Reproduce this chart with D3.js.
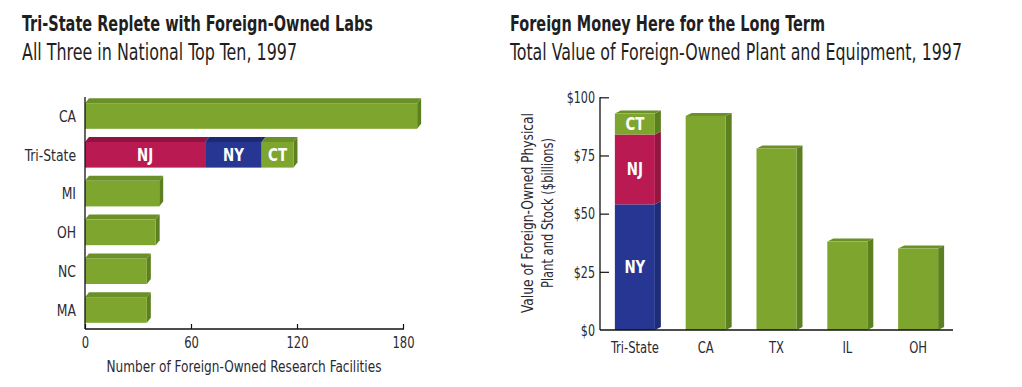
<!DOCTYPE html>
<html><head><meta charset="utf-8">
<script src="https://cdn.jsdelivr.net/npm/d3@7"></script>
<style>
body{margin:0;background:#fff;}
svg{display:block;}
text{font-family:"Liberation Sans Narrow","DejaVu Sans Condensed","Roboto",sans-serif;}
</style></head>
<body>
<svg id="c" width="1022" height="387"></svg>
<script>
// ---- Left chart data ----
const labCategories = ["CA","Tri-State","MI","OH","NC","MA"];
const labTotals = [188, null, 42, 40, 35, 35];
const triStateLabParts = ["NJ","NY","CT"];
const triStateLabValues = [68, 32, 18];
const labTicks = [0, 60, 120, 180];

// ---- Right chart data ----
const plantCategories = ["Tri-State","CA","TX","IL","OH"];
const plantTotals = [null, 92, 78, 38, 35];
const triStatePlantParts = ["NY","NJ","CT"];
const triStatePlantValues = [54, 30, 9];
const plantTicks = [0, 25, 50, 75, 100];

const colors = {
  green:{front:"#7ea52e", top:"#6a9027", side:"#5c8020"},
  NJ:{front:"#b81a51", top:"#8f1441", side:"#93163f"},
  NY:{front:"#263692", top:"#1d2a72", side:"#1f2c78"},
  CT:{front:"#7ea52e", top:"#6a9027", side:"#5c8020"}
};
const txt = "#2a2a33";
const svg = d3.select("#c");

// condense text horizontally (no narrow font available)
function squeeze(sel, factor, target){
  sel.each(function(){
    const w = this.getComputedTextLength();
    const tl = target != null ? target : w*factor;
    d3.select(this).attr("textLength", tl).attr("lengthAdjust","spacingAndGlyphs");
  });
}

// titles
function title(x, t1, t2, w1, w2){
  squeeze(svg.append("text").attr("x",x).attr("y",31).attr("font-size",22).attr("font-weight","bold").attr("fill","#1f1f1f").text(t1), 0, w1);
  squeeze(svg.append("text").attr("x",x).attr("y",60).attr("font-size",22.5).attr("fill","#1f1f1f").text(t2), 0, w2);
}
title(22,"Tri-State Replete with Foreign-Owned Labs","All Three in National Top Ten, 1997", 351, 275);
title(510,"Foreign Money Here for the Long Term","Total Value of Foreign-Owned Plant and Equipment, 1997", 315, 452);

// 3D box helper
function box(g, x0, x1, y0, y1, c, dx, dy, drawSide){
  g.append("path").attr("d",`M${x0},${y0}L${x0+dx},${y0-dy}L${x1+dx},${y0-dy}L${x1},${y0}Z`).attr("fill",c.top);
  if(drawSide) g.append("path").attr("d",`M${x1},${y0}L${x1+dx},${y0-dy}L${x1+dx},${y1-dy}L${x1},${y1}Z`).attr("fill",c.side);
  g.append("rect").attr("x",x0).attr("y",y0).attr("width",x1-x0).attr("height",y1-y0).attr("fill",c.front);
}

// ---- Left chart ----
{
  const x = d3.scaleLinear().domain([0,180]).range([85,403]);
  const y = d3.scaleBand().domain(labCategories).range([97,329]).paddingInner(0.34).paddingOuter(0.16);
  const g = svg.append("g");
  const dx=4, dy=5;
  labCategories.forEach((cat,i)=>{
    const y0 = y(cat), y1 = y(cat)+y.bandwidth();
    if(cat==="Tri-State"){
      let acc=0;
      triStateLabParts.forEach((p,j)=>{
        const a=x(acc), b=x(acc+triStateLabValues[j]);
        box(g,a,b,y0,y1,colors[p],dx,dy,j===triStateLabParts.length-1);
        squeeze(g.append("text").attr("x",(a+b)/2).attr("y",(y0+y1)/2+6).attr("text-anchor","middle")
          .attr("font-size",17.5).attr("font-weight","bold").attr("fill","#fff").text(p), 0.85);
        acc+=triStateLabValues[j];
      });
    } else {
      box(g,x(0),x(labTotals[i]),y0,y1,colors.green,dx,dy,true);
    }
  });
  const ax = d3.axisBottom(x).tickValues(labTicks).tickSize(-5).tickPadding(7).tickFormat(d3.format("d"));
  const axg = g.append("g").attr("transform","translate(0,329)").call(ax);
  axg.attr("font-family",null);
  axg.select(".domain").attr("d","M85,0H404").attr("stroke","#111").attr("stroke-width",1.3);
  axg.selectAll(".tick line").attr("stroke","#111").attr("stroke-width",1.2);
  squeeze(axg.selectAll(".tick text").attr("font-size",16.5).attr("fill",txt), 0.78);
  const ay = d3.axisLeft(y).tickSize(0).tickPadding(9);
  const ayg = g.append("g").attr("transform","translate(85,0)").call(ay);
  ayg.attr("font-family",null);
  ayg.select(".domain").attr("d","M0,97V329").attr("stroke","#111").attr("stroke-width",1.3);
  squeeze(ayg.selectAll(".tick text").attr("font-size",16).attr("fill",txt).attr("dy","0.36em"), 0.86);
  squeeze(g.append("text").attr("x",244).attr("y",372).attr("text-anchor","middle").attr("font-size",16.5).attr("fill",txt)
    .text("Number of Foreign-Owned Research Facilities"), 0, 275);
}

// ---- Right chart ----
{
  const y = d3.scaleLinear().domain([0,100]).range([330,97.3]);
  const x = d3.scaleBand().domain(plantCategories).range([600,953]).paddingInner(0.435).paddingOuter(0.21);
  const g = svg.append("g");
  const dx=6, dy=3;
  plantCategories.forEach((cat,i)=>{
    const x0=x(cat), x1=x(cat)+x.bandwidth();
    if(cat==="Tri-State"){
      let acc=0;
      const segs = triStatePlantParts.map((p,j)=>{const s={p,a:acc,b:acc+triStatePlantValues[j]}; acc+=triStatePlantValues[j]; return s;});
      segs.forEach((s,j)=>{
        const c=colors[s.p];
        g.append("path").attr("d",`M${x1},${y(s.b)}L${x1+dx},${y(s.b)-dy}L${x1+dx},${y(s.a)-dy}L${x1},${y(s.a)}Z`).attr("fill",c.side);
        if(j===segs.length-1) g.append("path").attr("d",`M${x0},${y(s.b)}L${x0+dx},${y(s.b)-dy}L${x1+dx},${y(s.b)-dy}L${x1},${y(s.b)}Z`).attr("fill",c.top);
        g.append("rect").attr("x",x0).attr("y",y(s.b)).attr("width",x1-x0).attr("height",y(s.a)-y(s.b)).attr("fill",c.front);
        squeeze(g.append("text").attr("x",(x0+x1)/2).attr("y",(y(s.a)+y(s.b))/2+6).attr("text-anchor","middle")
          .attr("font-size",17.5).attr("font-weight","bold").attr("fill","#fff").text(s.p), 0.85);
      });
    } else {
      box(g,x0,x1,y(plantTotals[i]),y(0),colors.green,dx,dy,true);
    }
  });
  const ay = d3.axisLeft(y).tickValues(plantTicks).tickSize(-9).tickPadding(14).tickFormat(d=>"$"+d);
  const ayg = g.append("g").attr("transform","translate(600,0)").call(ay);
  ayg.attr("font-family",null);
  ayg.select(".domain").attr("d","M0,97.3V330").attr("stroke","#111").attr("stroke-width",1.3);
  ayg.selectAll(".tick line").attr("stroke","#111").attr("stroke-width",1.2).filter(d=>d===0).remove();
  squeeze(ayg.selectAll(".tick text").attr("font-size",16.5).attr("fill",txt).attr("x",-5), 0.75);
  const ax = d3.axisBottom(x).tickSize(0).tickPadding(11);
  const axg = g.append("g").attr("transform","translate(0,330)").call(ax);
  axg.attr("font-family",null);
  axg.select(".domain").attr("d","M600,0H953").attr("stroke","#111").attr("stroke-width",1.3);
  squeeze(axg.selectAll(".tick text").attr("font-size",16.5).attr("fill",txt), 0.78);
  const t = g.append("text").attr("transform","translate(538,213) rotate(-90)").attr("text-anchor","middle").attr("font-size",16.5).attr("fill",txt);
  const l1 = t.append("tspan").attr("x",0).attr("y",-5).text("Value of Foreign-Owned Physical");
  const l2 = t.append("tspan").attr("x",0).attr("y",15).text("Plant and Stock ($billions)");
  squeeze(l1, 0, 200);
  squeeze(l2, 0, 150);
}
</script>
</body></html>
